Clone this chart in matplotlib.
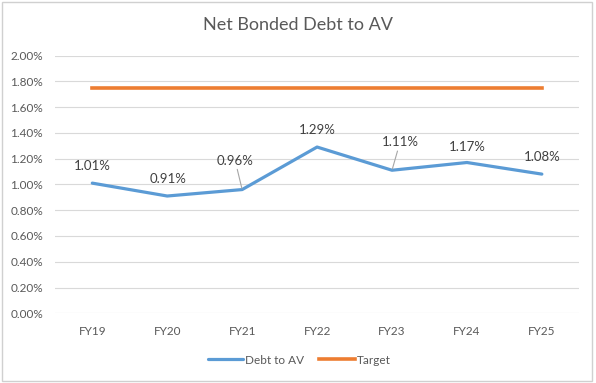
import matplotlib
matplotlib.use("Agg")
import matplotlib.pyplot as plt
from matplotlib.patches import Rectangle
from matplotlib.ticker import FuncFormatter

categories = ["FY19", "FY20", "FY21", "FY22", "FY23", "FY24", "FY25"]
debt_to_av = [1.01, 0.91, 0.96, 1.29, 1.11, 1.17, 1.08]
target = [1.75, 1.75, 1.75, 1.75, 1.75, 1.75, 1.75]
yticks = [0.0, 0.2, 0.4, 0.6, 0.8, 1.0, 1.2, 1.4, 1.6, 1.8, 2.0]
# label offsets in pixels (dx, dy) and whether a leader line is drawn
label_offsets = [(0, 17), (1, 17), (-7, 29), (0, 17), (8, 28), (0, 16), (0, 17)]
leaders = [False, False, True, False, True, False, False]

plt.rcParams['font.family'] = ['Lato', 'DejaVu Sans']

fig = plt.figure(figsize=(5.96, 3.83), dpi=100)
fig.patches.append(Rectangle((0.004, 0.006), 0.99, 0.988, transform=fig.transFigure,
                             fill=False, edgecolor="#D0D0D0", linewidth=1.0))
ax = fig.add_axes([0.092, 0.182, 0.880, 0.673])

x = list(range(len(categories)))
ax.plot(x, debt_to_av, color="#5B9BD5", linewidth=2.3, label="Debt to AV", solid_capstyle="round")
ax.plot(x, target, color="#ED7D31", linewidth=2.6, label="Target")

for i, (v, (dx, dy), ld) in enumerate(zip(debt_to_av, label_offsets, leaders)):
    arrow = None
    if ld:
        arrow = dict(arrowstyle="-", color="#A6A6A6", lw=0.8, shrinkA=0, shrinkB=1)
    ax.annotate(f"{v:.2f}%", (i, v), xytext=(dx, dy), textcoords="offset pixels",
                ha="center", va="center", fontsize=9.5, color="#404040",
                arrowprops=arrow)

ax.set_xlim(-0.5, len(categories) - 0.5)
ax.set_ylim(0, 2.0)
ax.set_yticks(yticks)
ax.yaxis.set_major_formatter(FuncFormatter(lambda v, p: f"{v:.2f}%"))
ax.set_xticks(x)
ax.set_xticklabels(categories)
ax.grid(axis="y", color="#D9D9D9", linewidth=0.8)
ax.set_axisbelow(True)
for s in ax.spines.values():
    s.set_visible(False)
ax.tick_params(length=0, labelsize=8.5, labelcolor="#595959")
ax.tick_params(axis="x", pad=9)
ax.tick_params(axis="y", pad=8.5)

fig.text(0.5, 0.935, "Net Bonded Debt to AV", ha="center", va="center",
         fontsize=13, color="#595959")

fig.legend(loc="center", bbox_to_anchor=(0.502, 0.060), ncol=2, frameon=False,
           fontsize=8.5, labelcolor="#595959", handlelength=3.0, handletextpad=0.15,
           columnspacing=1.3)

fig.savefig("out.png", dpi=100)
